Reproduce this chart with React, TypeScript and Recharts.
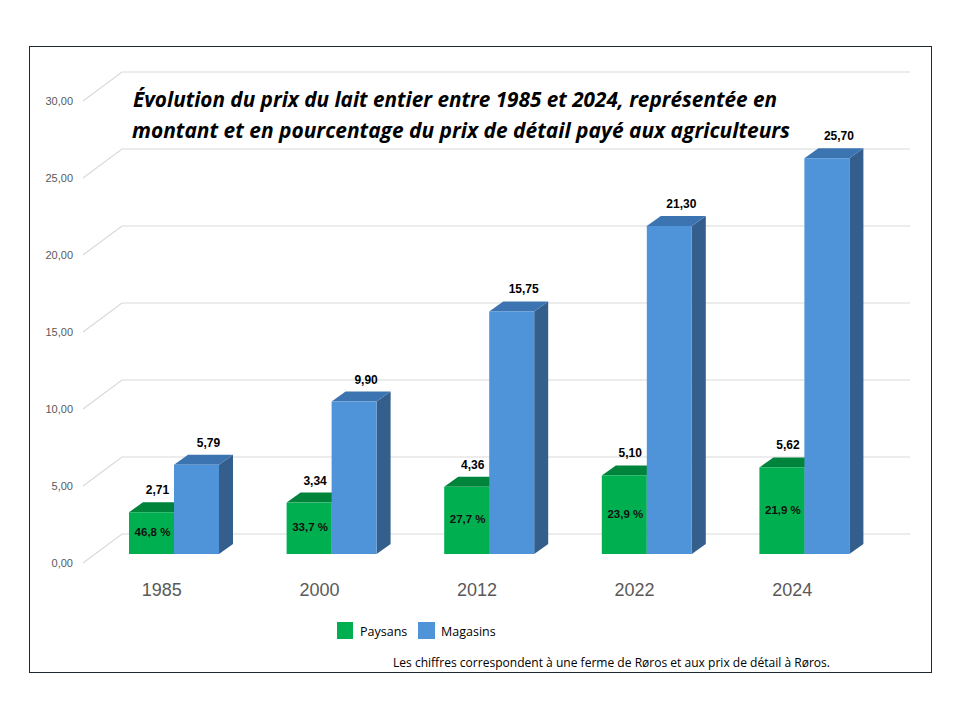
import React from 'react';
import { BarChart, Bar, XAxis, YAxis, CartesianGrid, LabelList } from 'recharts';

const categories = ['1985', '2000', '2012', '2022', '2024'];
const paysans = [2.71, 3.34, 4.36, 5.1, 5.62];
const magasins = [5.79, 9.9, 15.75, 21.3, 25.7];
const pourcentages = ['46,8 %', '33,7 %', '27,7 %', '23,9 %', '21,9 %'];
const yTicks = [0, 5, 10, 15, 20, 25, 30];

const data = categories.map((c, i) => ({
  annee: c,
  paysans: paysans[i],
  magasins: magasins[i],
  pct: pourcentages[i],
}));

const fmt = (v: number) => v.toFixed(2).replace('.', ',');

// 3D offsets
const BAR_DX = 12;
const BAR_DY = -9;
const DEPTH_DX = 14;
const DEPTH_DY = -10;
const WALL_DX = 39;
const WALL_DY = -29;

const makeShape = (front: string, top: string, side: string) => (props: any) => {
  const { x, y, width, height } = props;
  if (width == null || height == null) return null;
  const fx = x + BAR_DX;
  const fy = y + BAR_DY;
  const w = width;
  const h = height;
  return (
    <g>
      <polygon
        points={`${fx + w},${fy} ${fx + w + DEPTH_DX},${fy + DEPTH_DY} ${fx + w + DEPTH_DX},${fy + h + DEPTH_DY} ${fx + w},${fy + h}`}
        fill={side}
      />
      <polygon
        points={`${fx},${fy} ${fx + DEPTH_DX},${fy + DEPTH_DY} ${fx + w + DEPTH_DX},${fy + DEPTH_DY} ${fx + w},${fy}`}
        fill={top}
      />
      <rect x={fx} y={fy} width={w} height={h} fill={front} />
    </g>
  );
};

const greenShape = makeShape('#00B050', '#00843C', '#008F40');
const blueShape = makeShape('#4F94D9', '#3C74B1', '#345E8C');

const valueLabel = (shift: number) => (props: any) => {
  const { x, y, width, value } = props;
  return (
    <text
      x={x + BAR_DX + width / 2 + shift}
      y={y + BAR_DY - 22}
      textAnchor="middle"
      dominantBaseline="central"
      fontFamily="'Liberation Sans', Arial, sans-serif"
      fontWeight="bold"
      fontSize={12}
      fill="#000"
    >
      {fmt(Number(value))}
    </text>
  );
};

const pctLabel = (props: any) => {
  const { x, y, width, height, value } = props;
  return (
    <text
      x={x + BAR_DX + width / 2 + 1}
      y={y + BAR_DY + height / 2 - 1}
      textAnchor="middle"
      dominantBaseline="central"
      fontFamily="'Liberation Sans', Arial, sans-serif"
      fontWeight="bold"
      fontSize={11.5}
      fill="#111"
    >
      {value}
    </text>
  );
};

const gridLine = (props: any) => {
  const { x1, y1, x2, index } = props;
  const d = `M${x1},${y1} L${x1 + WALL_DX},${y1 + WALL_DY} L${x2 + WALL_DX - 0},${y1 + WALL_DY}`;
  return <path key={`g-${index}-${y1}`} d={d} stroke="#D9D9D9" strokeWidth={1.2} fill="none" />;
};

export default function App() {
  return (
    <div
      style={{
        position: 'absolute',
        left: 0,
        top: 0,
        width: 960,
        height: 720,
        background: '#fff',
        overflow: 'hidden',
      }}
    >
      <div
        style={{
          position: 'absolute',
          left: 29,
          top: 46,
          width: 903,
          height: 627,
          boxSizing: 'border-box',
          border: '1.5px solid #1E2835',
        }}
      />
      <BarChart
        width={960}
        height={720}
        data={data}
        margin={{ top: 101, right: 89, bottom: 127, left: 0 }}
        barGap={0}
        barSize={45}
      >
        <CartesianGrid vertical={false} horizontal={gridLine} />
        <XAxis
          dataKey="annee"
          axisLine={false}
          tickLine={false}
          tickSize={0}
          tickMargin={20}
          height={30}
          tick={{ fill: '#595959', fontSize: 18, fontFamily: "'Liberation Sans', Arial, sans-serif" }}
        />
        <YAxis
          domain={[0, 30]}
          ticks={yTicks}
          width={83}
          axisLine={false}
          tickLine={false}
          tickSize={0}
          tickMargin={10}
          tickFormatter={(v: number) => fmt(v)}
          tick={{ fill: '#595959', fontSize: 11, fontFamily: "'Liberation Sans', Arial, sans-serif" }}
        />
        <Bar dataKey="paysans" fill="#00B050" shape={greenShape} isAnimationActive={false}>
          <LabelList dataKey="paysans" content={valueLabel(6)} />
          <LabelList dataKey="pct" content={pctLabel} />
        </Bar>
        <Bar dataKey="magasins" fill="#4F94D9" shape={blueShape} isAnimationActive={false}>
          <LabelList dataKey="magasins" content={valueLabel(12)} />
        </Bar>
      </BarChart>
      <svg
        width={960}
        height={720}
        style={{ position: 'absolute', left: 0, top: 0, pointerEvents: 'none' }}
      >
        <g fontFamily="'Open Sans', 'Noto Sans', sans-serif" fontWeight="bold" fontStyle="italic" fontSize={21} fill="#000">
          <text x={133} y={107} textLength={644} lengthAdjust="spacingAndGlyphs">
            Évolution du prix du lait entier entre 1985 et 2024, représentée en
          </text>
          <text x={132} y={138} textLength={658} lengthAdjust="spacingAndGlyphs">
            montant et en pourcentage du prix de détail payé aux agriculteurs
          </text>
        </g>
        <rect x={337} y={622} width={16} height={17} fill="#00B050" />
        <text x={360} y={636} fontFamily="'Open Sans', 'Noto Sans', sans-serif" fontSize={12.5} fill="#000">
          Paysans
        </text>
        <rect x={418} y={622} width={17} height={17} fill="#4F94D9" />
        <text x={441} y={636} fontFamily="'Open Sans', 'Noto Sans', sans-serif" fontSize={12.5} fill="#000">
          Magasins
        </text>
        <text
          x={393}
          y={667}
          fontFamily="'Open Sans', 'Noto Sans', sans-serif"
          fontSize={13}
          fill="#000"
          textLength={437}
          lengthAdjust="spacingAndGlyphs"
        >
          Les chiffres correspondent à une ferme de Røros et aux prix de détail à Røros.
        </text>
      </svg>
    </div>
  );
}
